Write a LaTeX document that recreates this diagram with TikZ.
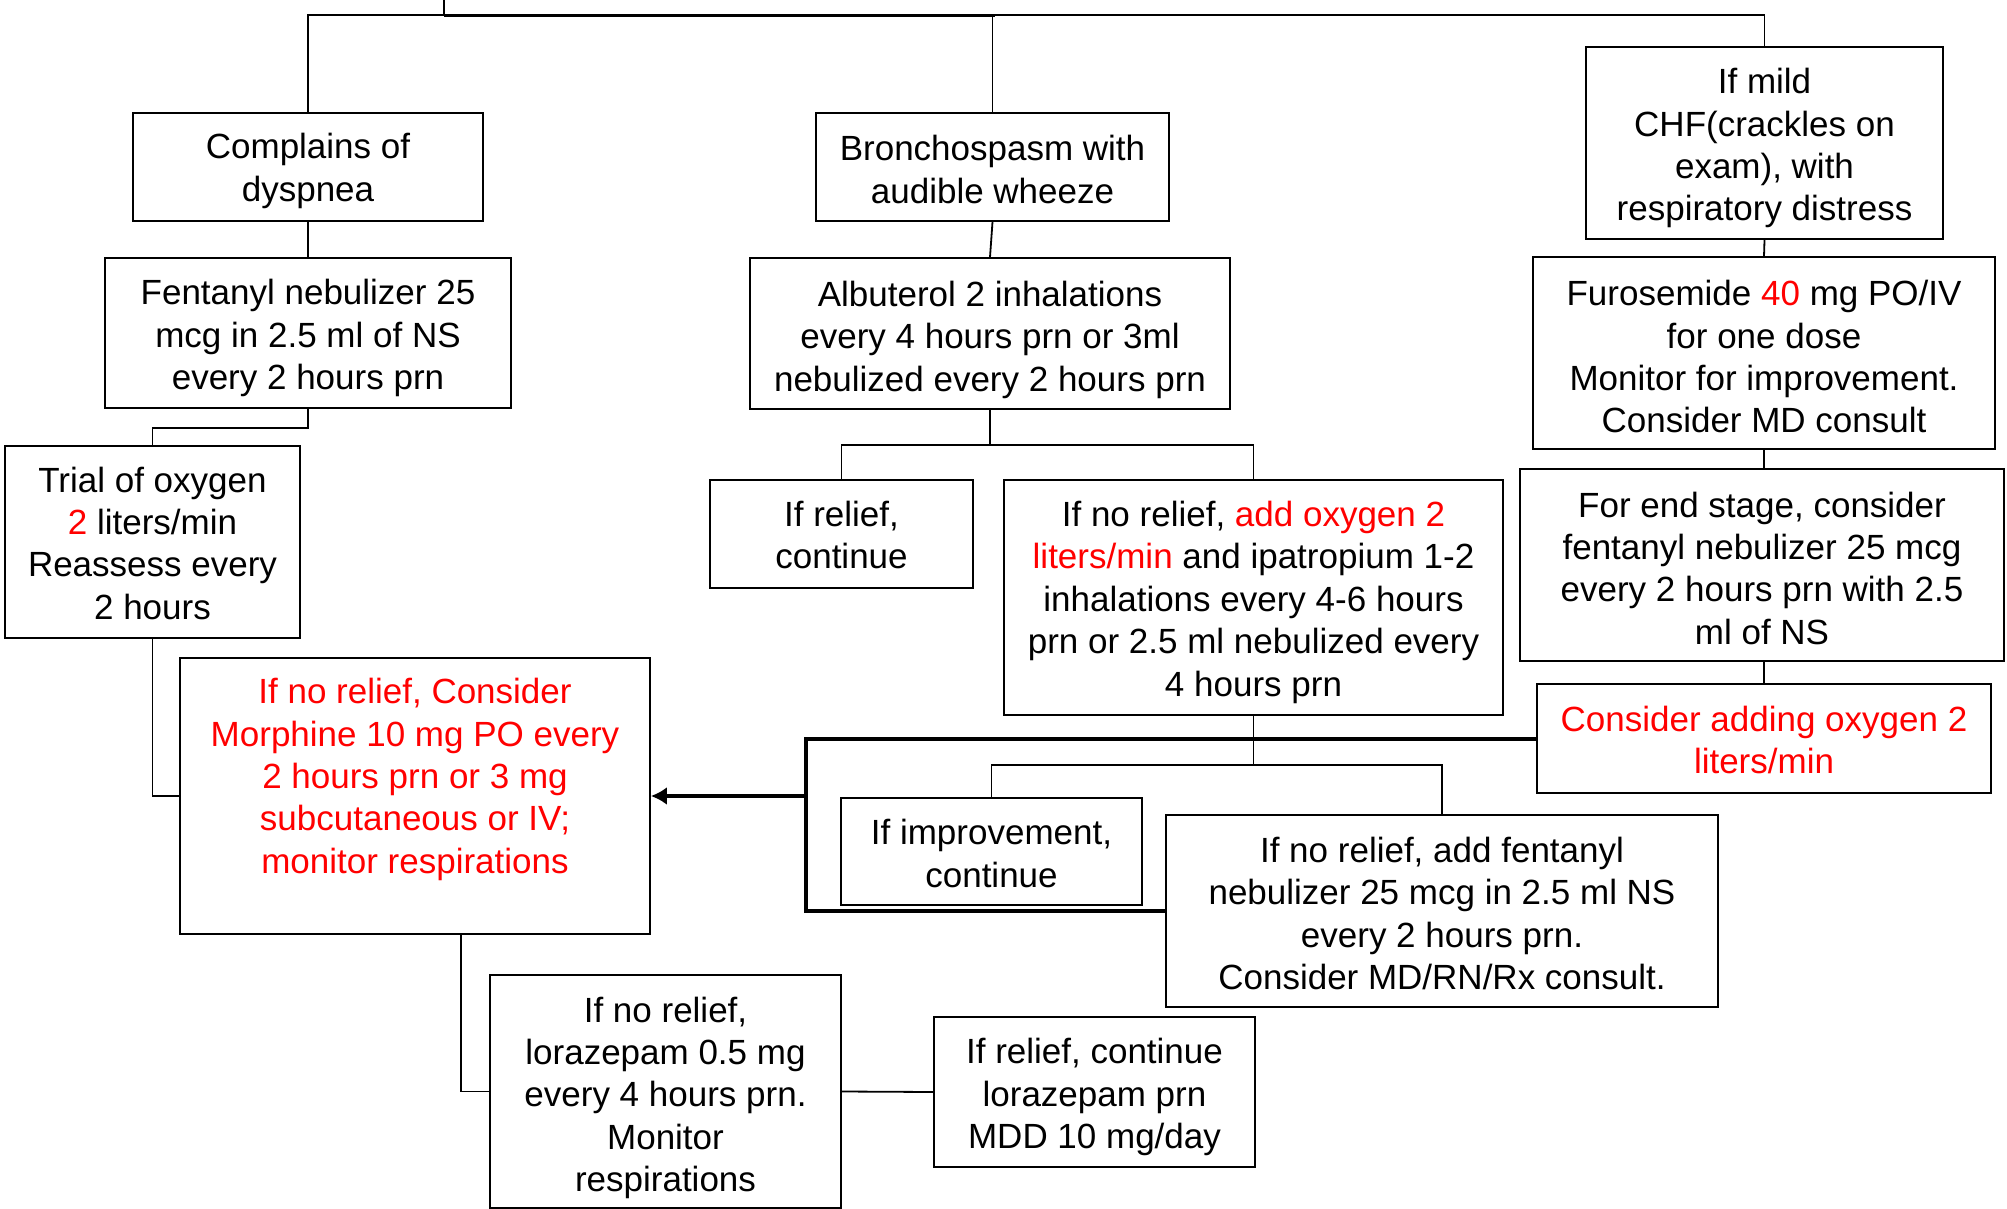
\documentclass[tikz,border=0pt]{standalone}
\usepackage{fontspec}
\setmainfont{Liberation Sans}
\usetikzlibrary{arrows.meta}
\definecolor{rd}{RGB}{255,0,0}
\newcommand{\rt}[1]{\textcolor{rd}{#1}}
% \bx[text shift]{name}{centre}{width}{height}{text}
\newcommand{\bx}[6][-1.8pt]{%
  \node[frame, minimum width=#4, minimum height=#5] (#2) at #3 {};
  \node[txt, yshift=#1] (#2-t) at #3 {#6};}
\begin{document}
\begin{tikzpicture}[x=0.5pt,y=-0.5pt,
  frame/.style={draw, line width=0.9pt, inner sep=0pt},
  txt/.style={inner sep=0pt, align=center, font=\fontsize{17.5}{21.2}\selectfont},
  con/.style={line width=0.9pt},
  thk/.style={line width=2pt}]
\useasboundingbox (0,0) rectangle (2007,1209);

% left column
\bx[-1.9pt]{cmp}{(308,167)}{175pt}{54pt}{Complains of\\dyspnea}
\bx[-2.6pt]{fen}{(308,333)}{203pt}{75pt}{Fentanyl nebulizer 25\\mcg in 2.5 ml of NS\\every 2 hours prn}
\bx[-0.6pt]{tri}{(152.5,542)}{147.5pt}{96pt}{Trial of oxygen\\\rt{2} liters/min\\Reassess every\\2 hours}
\bx[8.25pt]{mor}{(415,796)}{235pt}{138pt}{\color{rd}If no relief, Consider\\\color{rd}Morphine 10 mg PO every\\\color{rd}2 hours prn or 3 mg\\\color{rd}subcutaneous or IV;\\\color{rd}monitor respirations}
\bx[-3.2pt]{lor}{(665.5,1091.5)}{175.5pt}{116.5pt}{If no relief,\\lorazepam 0.5 mg\\every 4 hours prn.\\Monitor\\respirations}
\bx[-2.6pt]{rlc}{(1094.5,1092)}{160.5pt}{75pt}{If relief, continue\\lorazepam prn\\MDD 10 mg/day}

% middle column
\bx[-1.3pt]{bro}{(992.5,167)}{176.5pt}{54pt}{Bronchospasm with\\audible wheeze}
\bx[-3.2pt]{alb}{(990,333.5)}{240pt}{75.5pt}{Albuterol 2 inhalations\\every 4 hours prn or 3ml\\nebulized every 2 hours prn}
\bx[-0.6pt]{rel}{(841.5,534)}{131.5pt}{54pt}{If relief,\\continue}
\bx[-2.4pt]{nrl}{(1253.5,597.5)}{249.5pt}{117.5pt}{If no relief, \rt{add oxygen 2}\\\rt{liters/min} and ipatropium 1-2\\inhalations every 4-6 hours\\prn or 2.5 ml nebulized every\\4 hours prn}
\bx[-1pt]{imp}{(991.5,851.5)}{150.5pt}{53.5pt}{If improvement,\\continue}
\bx[-1.3pt]{fad}{(1442,911)}{276pt}{96pt}{If no relief, add fentanyl\\nebulizer 25 mcg in 2.5 ml NS\\every 2 hours prn.\\Consider MD/RN/Rx consult.}

% right column
\bx[-2.6pt]{chf}{(1764.5,143)}{178.5pt}{96pt}{If mild\\CHF(crackles on\\exam), with\\respiratory distress}
\bx[-1.9pt]{fur}{(1764,353)}{231pt}{96pt}{Furosemide \rt{40} mg PO/IV\\for one dose\\Monitor for improvement.\\Consider MD consult}
\bx[-1.6pt]{end}{(1762,565)}{242pt}{96pt}{For end stage, consider\\fentanyl nebulizer 25 mcg\\every 2 hours prn with 2.5\\ml of NS}
\bx[-0.6pt]{cad}{(1764,738.5)}{227pt}{54.5pt}{\color{rd}Consider adding oxygen 2\\\color{rd}liters/min}

% top connectors
\coordinate (t0) at (444,0);
\coordinate (tj) at (444,16);
\coordinate (bj) at (995,16);
\draw[con] (t0) -- (tj);
\draw[con] (cmp.north) -- ++(0,-97) -| (chf.north);
\draw[line width=1.4pt] (tj) -- (bj);
\draw[con] (bro.north) -- (bro.north |- bj);

% left column connectors
\draw[con] (cmp.south) -- (fen.north);
\draw[con] (fen.south) -- ++(0,19) -| (tri.north);
\draw[con] (tri.south) |- (mor.west);
\draw[con] ([xshift=23pt]mor.south) |- (lor.west);
\draw[con] (lor.east) -- (rlc.west);

% middle connectors
\draw[con] (bro.south) -- (alb.north);
\draw[con] (alb.south) -- ++(0,35) coordinate (aj);
\draw[con] (rel.north) |- (aj) -| (nrl.north);
\draw[con] (nrl.south) -- ++(0,49) coordinate (nj);
\draw[con] (imp.north) |- (nj) -| (fad.north);

% right connectors
\draw[con] (chf.south) -- (fur.north);
\draw[con] (fur.south) -- (fur.south |- end.north);
\draw[con] (fur.south |- end.south) -- (fur.south |- cad.north);

% thick connectors
\coordinate (bend) at (806,911);
\draw[thk] (cad.west) -| (bend) -- (fad.west);
\draw[thk, -{Latex[length=8pt, width=9pt]}] (bend |- mor.east) -- (mor.east);
\end{tikzpicture}
\end{document}
